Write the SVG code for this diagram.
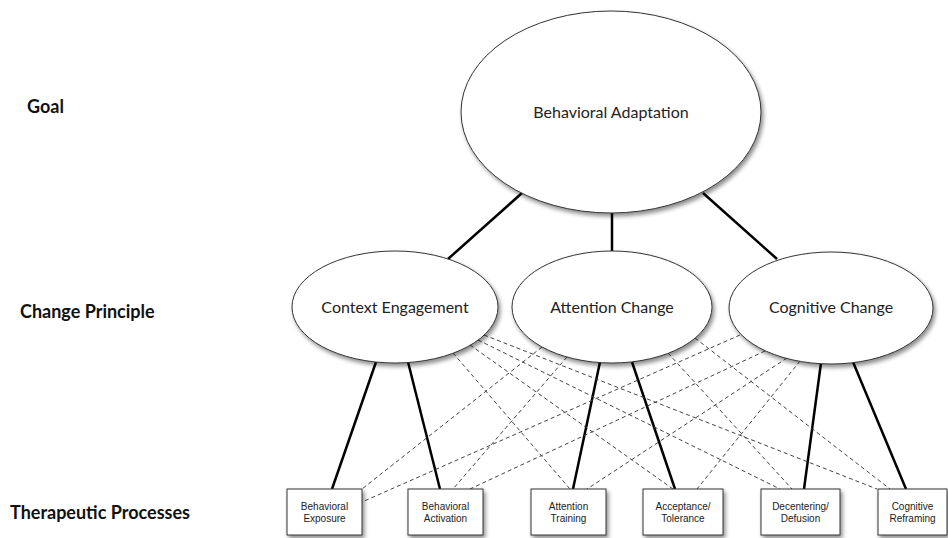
<svg xmlns="http://www.w3.org/2000/svg" width="948" height="538" viewBox="0 0 948 538">
<style>
.lbl{font-family:Lato,"Noto Sans","Liberation Sans",sans-serif;font-weight:bold;font-size:18px;fill:#111}
.ell{fill:#fff;stroke:#333;stroke-width:1;filter:url(#sh)}
.box{fill:#fff;stroke:#333;stroke-width:1;filter:url(#sh)}
.et{font-family:Lato,"Noto Sans","Liberation Sans",sans-serif;font-size:16px;fill:#222;text-anchor:middle}
.bt{font-family:"Liberation Sans",Arial,sans-serif;font-size:10px;fill:#222;text-anchor:middle}
.solid{stroke:#000;stroke-width:2.5;fill:none}
.dash{stroke:#444;stroke-width:1;stroke-dasharray:4 3;fill:none}
</style>
<defs>
<filter id="sh" x="-10%" y="-10%" width="125%" height="130%">
<feDropShadow dx="2" dy="3" stdDeviation="2" flood-color="#000" flood-opacity="0.45"/>
</filter>
</defs>
<rect width="948" height="538" fill="#fff"/>
<g id="levels">
<text class="lbl" x="27" y="113">Goal</text>
<text class="lbl" x="20" y="318">Change Principle</text>
<text class="lbl" x="10" y="519">Therapeutic Processes</text>
</g>
<g id="connectors">
<line class="solid" x1="522" y1="193" x2="448" y2="259"/>
<line class="solid" x1="612" y1="213" x2="612" y2="251"/>
<line class="solid" x1="703" y1="193" x2="777" y2="259"/>
<line class="solid" x1="376" y1="362" x2="332" y2="489"/>
<line class="solid" x1="408" y1="362" x2="440" y2="489"/>
<line class="solid" x1="600" y1="362" x2="573" y2="489"/>
<line class="solid" x1="632" y1="362" x2="675" y2="489"/>
<line class="solid" x1="821" y1="363" x2="804" y2="489"/>
<line class="solid" x1="853" y1="362" x2="906" y2="489"/>
<line class="dash" x1="453" y1="353" x2="570" y2="489"/>
<line class="dash" x1="470" y1="345" x2="673" y2="489"/>
<line class="dash" x1="478" y1="340" x2="780" y2="489"/>
<line class="dash" x1="484" y1="335" x2="877" y2="489"/>
<line class="dash" x1="542" y1="347" x2="362" y2="489"/>
<line class="dash" x1="567" y1="357" x2="453" y2="489"/>
<line class="dash" x1="668" y1="353" x2="792" y2="489"/>
<line class="dash" x1="695" y1="338" x2="890" y2="489"/>
<line class="dash" x1="740" y1="335" x2="362" y2="502"/>
<line class="dash" x1="765" y1="351" x2="470" y2="489"/>
<line class="dash" x1="787" y1="358" x2="587" y2="489"/>
<line class="dash" x1="800" y1="361" x2="697" y2="489"/>
</g>
<g id="goal">
<ellipse class="ell" cx="611" cy="112" rx="150" ry="101"/>
<text class="et" x="611" y="118">Behavioral Adaptation</text>
</g>
<g id="context-engagement">
<ellipse class="ell" cx="395" cy="307" rx="103" ry="56"/>
<text class="et" x="395" y="313">Context Engagement</text>
</g>
<g id="attention-change">
<ellipse class="ell" cx="612" cy="307" rx="100" ry="56"/>
<text class="et" x="612" y="313">Attention Change</text>
</g>
<g id="cognitive-change">
<ellipse class="ell" cx="831" cy="308" rx="102" ry="56"/>
<text class="et" x="831" y="313">Cognitive Change</text>
</g>
<g id="behavioral-exposure">
<rect class="box" x="287" y="489" width="75" height="46"/>
<text class="bt" x="324.5" y="510">Behavioral</text>
<text class="bt" x="324.5" y="522">Exposure</text>
</g>
<g id="behavioral-activation">
<rect class="box" x="408" y="489" width="75" height="46"/>
<text class="bt" x="445.5" y="510">Behavioral</text>
<text class="bt" x="445.5" y="522">Activation</text>
</g>
<g id="attention-training">
<rect class="box" x="531" y="489" width="75" height="46"/>
<text class="bt" x="568.5" y="510">Attention</text>
<text class="bt" x="568.5" y="522">Training</text>
</g>
<g id="acceptance-tolerance">
<rect class="box" x="643" y="489" width="80" height="46"/>
<text class="bt" x="683" y="510">Acceptance/</text>
<text class="bt" x="683" y="522">Tolerance</text>
</g>
<g id="decentering-defusion">
<rect class="box" x="761" y="489" width="79" height="46"/>
<text class="bt" x="800.5" y="510">Decentering/</text>
<text class="bt" x="800.5" y="522">Defusion</text>
</g>
<g id="cognitive-reframing">
<rect class="box" x="878" y="489" width="69" height="46"/>
<text class="bt" x="912.5" y="510">Cognitive</text>
<text class="bt" x="912.5" y="522">Reframing</text>
</g>
</svg>
